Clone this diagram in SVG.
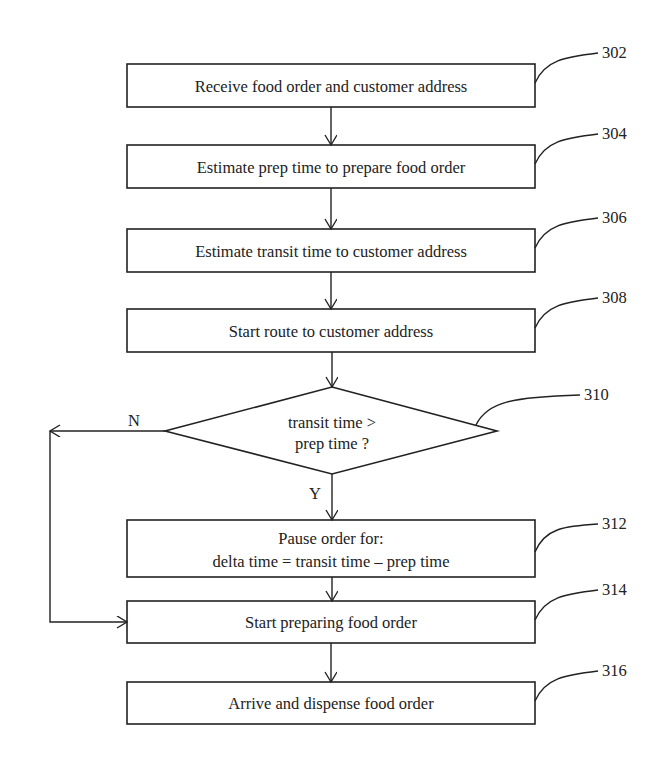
<svg xmlns="http://www.w3.org/2000/svg" width="667" height="767" viewBox="0 0 667 767">
<style>
.b{fill:#fff;stroke:#222;stroke-width:1.6}
.l{fill:none;stroke:#222;stroke-width:1.4}
text{font-family:"Liberation Serif",serif;font-size:16.5px;fill:#222}
.c{text-anchor:middle}
</style>
<defs><marker id="a" markerWidth="14" markerHeight="14" refX="11" refY="6" orient="auto" markerUnits="userSpaceOnUse"><path d="M1,0 L11,6 L1,12" fill="none" stroke="#222" stroke-width="1.4"/></marker></defs>
<rect width="667" height="767" fill="#fff"/>
<g id="n302"><rect class="b" x="127" y="64" width="408" height="43"/><text class="c" x="331" y="92">Receive food order and customer address</text><path class="l" d="M535,83 C545,60 565,57 598,53"/><text x="602" y="58">302</text></g>
<g id="n304"><rect class="b" x="127" y="145" width="408" height="43"/><text class="c" x="331" y="173">Estimate prep time to prepare food order</text><path class="l" d="M535,164 C545,141 565,138 598,134"/><text x="602" y="139">304</text></g>
<g id="n306"><rect class="b" x="127" y="229" width="408" height="43"/><text class="c" x="331" y="257">Estimate transit time to customer address</text><path class="l" d="M535,248 C545,225 565,222 598,218"/><text x="602" y="223">306</text></g>
<g id="n308"><rect class="b" x="127" y="309" width="408" height="43"/><text class="c" x="331" y="337">Start route to customer address</text><path class="l" d="M535,328 C545,305 565,302 598,298"/><text x="602" y="303">308</text></g>
<g id="n310"><polygon class="b" points="332,387 497,431 332,474 165,431"/><text class="c" x="332" y="428">transit time &gt;</text><text class="c" x="332" y="449">prep time ?</text><path class="l" d="M476,425 C487,402 512,397 580,395"/><text x="584" y="400">310</text></g>
<g id="n312"><rect class="b" x="127" y="520" width="408" height="57"/><text class="c" x="331" y="544">Pause order for:</text><text class="c" x="331" y="567">delta time = transit time – prep time</text><path class="l" d="M535,552 C545,528 565,526 598,524"/><text x="602" y="529">312</text></g>
<g id="n314"><rect class="b" x="127" y="601" width="408" height="42"/><text class="c" x="331" y="628">Start preparing food order</text><path class="l" d="M535,620 C545,597 565,594 598,590"/><text x="602" y="595">314</text></g>
<g id="n316"><rect class="b" x="127" y="682" width="408" height="42"/><text class="c" x="331" y="709">Arrive and dispense food order</text><path class="l" d="M535,701 C545,678 565,675 598,671"/><text x="602" y="676">316</text></g>
<g id="edges">
<line class="l" x1="331" y1="107" x2="331" y2="145" marker-end="url(#a)"/>
<line class="l" x1="331" y1="188" x2="331" y2="229" marker-end="url(#a)"/>
<line class="l" x1="331" y1="272" x2="331" y2="309" marker-end="url(#a)"/>
<line class="l" x1="332" y1="352" x2="332" y2="387" marker-end="url(#a)"/>
<line class="l" x1="332" y1="474" x2="332" y2="520" marker-end="url(#a)"/>
<line class="l" x1="332" y1="577" x2="332" y2="601" marker-end="url(#a)"/>
<line class="l" x1="331" y1="643" x2="331" y2="682" marker-end="url(#a)"/>
<line class="l" x1="165" y1="431" x2="50" y2="431" marker-end="url(#a)"/>
<polyline class="l" points="50,431 50,622 127,622" marker-end="url(#a)"/>
<text x="128" y="426">N</text><text x="309" y="499">Y</text>
</g>
</svg>
